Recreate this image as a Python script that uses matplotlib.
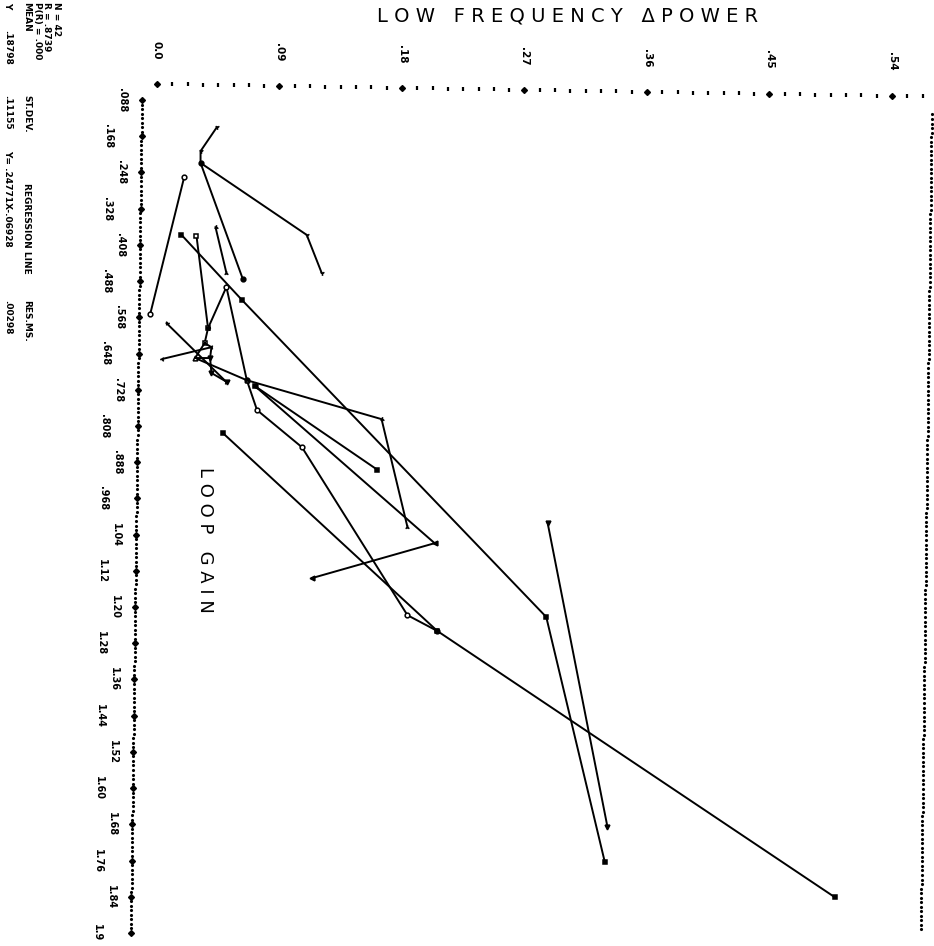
import numpy as np
import matplotlib
matplotlib.use('Agg')
import matplotlib.pyplot as plt

# low frequency delta power (horizontal) against loop gain (vertical, downwards)
# one trace per subject
pw_a = [0.044, 0.032, 0.032]
lg_a = [0.148, 0.201, 0.227]
pw_b = [0.032, 0.110, 0.121]
lg_b = [0.227, 0.386, 0.470]
pw_c = [0.032, 0.063]
lg_c = [0.227, 0.483]
pw_d = [0.020, -0.005]
lg_d = [0.258, 0.561]
pw_e = [0.018, 0.0625, 0.286, 0.329]
lg_e = [0.386, 0.530, 1.230, 1.771]
pw_f = [0.029, 0.0375, 0.035]
lg_f = [0.388, 0.592, 0.625]
pw_g = [0.043, 0.051]
lg_g = [0.369, 0.470]
pw_h = [0.051, 0.0375]
lg_h = [0.501, 0.592]
pw_i = [0.051, 0.066, 0.0735, 0.1065, 0.184, 0.206]
lg_i = [0.501, 0.707, 0.773, 0.855, 1.226, 1.261]
pw_j = [0.007, 0.051]
lg_j = [0.581, 0.711]
pw_k = [0.004, 0.040]
lg_k = [0.660, 0.634]
pw_l = [0.028, 0.066]
lg_l = [0.658, 0.707]
pw_m = [0.039, 0.040, 0.0514]
lg_m = [0.658, 0.691, 0.711]
pw_n = [0.066, 0.165, 0.184]
lg_n = [0.707, 0.793, 1.031]
pw_o = [0.072, 0.162]
lg_o = [0.720, 0.905]
pw_q = [0.072, 0.204, 0.114]
lg_q = [0.720, 1.067, 1.144]
pw_r = [0.0485, 0.206, 0.498]
lg_r = [0.824, 1.261, 1.849]
pw_s = [0.287, 0.331]
lg_s = [1.022, 1.694]
pw_t = [0.035, 0.040, 0.039, 0.028, 0.035]
lg_t = [0.625, 0.634, 0.658, 0.658, 0.625]

power_ticks = [0.0, 0.09, 0.18, 0.27, 0.36, 0.45, 0.54]
power_labels = ['0.0', '.09', '.18', '.27', '.36', '.45', '.54']
gain_labels = ['.088', '.168', '.248', '.328', '.408', '.488', '.568', '.648',
               '.728', '.808', '.888', '.968', '1.04', '1.12', '1.20', '1.28',
               '1.36', '1.44', '1.52', '1.60', '1.68', '1.76', '1.84', '1.9']
gain_ticks = [0.088 + 0.08 * k for k in range(len(gain_labels))]

stats_rows = [
    ('N = 42', 56, 2),
    ('R = .8739', 47, 2),
    ('P(R) = .000', 38, 2),
    ('MEAN', 27, 2), ('ST.DEV.', 27, 95), ('REGRESSION LINE', 27, 183), ('RES.MS.', 27, 300),
    ('Y', 8, 2), ('.18798', 8, 30), ('.11155', 8, 95), ('Y= .24771X-.06928', 8, 150), ('.00298', 8, 300),
]

# page geometry of the scan (pixels)
X0, XSCALE = 157.0, 1361.0
Y0, YSCALE = 100.0, 452.7
SKEW = 0.0133


def px_p(x):
    return (x - X0) / XSCALE


def px_v(y):
    return 0.088 + (y - Y0) / YSCALE


fig = plt.figure(figsize=(9.34, 9.46), dpi=100)
ax = fig.add_axes([0, 0, 1, 1])
ax.set_xlim(px_p(0), px_p(934))
ax.set_ylim(px_v(946), px_v(0))
ax.axis('off')

# top axis (power)
pp = np.arange(0, 0.5626, 0.01125)
yy = 84 + 0.016 * (pp * XSCALE)
ax.plot(pp, px_v(yy), ls='none', marker='|', ms=3.5, mew=1.6, color='k')
pm = np.array(power_ticks)
ax.plot(pm, px_v(84 + 0.016 * pm * XSCALE), ls='none', marker='D', ms=3, color='k')
for t, lab in zip(power_ticks, power_labels):
    ax.text(t, px_v(50 + 0.016 * t * XSCALE), lab, rotation=-90, ha='center', va='center',
            fontsize=7.5, fontweight='bold')

# left axis (loop gain)
vv = np.arange(0.088, 1.9285, 0.01)
ypx = Y0 + (vv - 0.088) * YSCALE
ax.plot(px_p(142 - SKEW * (ypx - 99)), vv, ls='none', marker='.', ms=2.5, color='k')
vm = np.array(gain_ticks)
ym = Y0 + (vm - 0.088) * YSCALE
ax.plot(px_p(142 - SKEW * (ym - 99)), vm, ls='none', marker='D', ms=3, color='k')
for k, (t, lab) in enumerate(zip(gain_ticks, gain_labels)):
    y = Y0 + (t - 0.088) * YSCALE
    x = (122 if k % 2 == 0 else 108) - SKEW * (y - 99)
    ax.text(px_p(x), t, lab, rotation=-90, ha='center', va='center', fontsize=7, fontweight='bold')

# right frame
vr = np.arange(0.12, 1.9285, 0.01)
yr = Y0 + (vr - 0.088) * YSCALE
ax.plot(px_p(932 - SKEW * (yr - 99)), vr, ls='none', marker='.', ms=2.5, color='k')

# traces
traces = [
    (pw_a, lg_a, '1', 'k'), (pw_b, lg_b, '1', 'k'), (pw_c, lg_c, 'o', 'k'), (pw_d, lg_d, 'o', 'w'),
    (pw_e, lg_e, 's', 'k'), (pw_f, lg_f, 's', 'w'), (pw_g, lg_g, '2', 'k'), (pw_h, lg_h, '*', 'k'),
    (pw_i, lg_i, 'o', 'w'), (pw_j, lg_j, '4', 'k'), (pw_k, lg_k, '3', 'k'), (pw_l, lg_l, '^', 'w'),
    (pw_m, lg_m, 'v', 'k'), (pw_n, lg_n, '2', 'k'), (pw_o, lg_o, 's', 'k'), (pw_q, lg_q, '<', 'k'),
    (pw_r, lg_r, 's', 'k'), (pw_s, lg_s, 'v', 'k'), (pw_t, lg_t, '', 'k'),
]
for pw, lg, mk, face in traces:
    ax.plot(pw, lg, color='k', lw=1.4, marker=mk if mk else None, ms=3.4, mew=1.1,
            mfc=face, mec='k')

# titles
ax.text(px_p(568), px_v(16), 'L O W   F R E Q U E N C Y   Δ P O W E R',
        ha='center', va='center', fontsize=14)
ax.text(px_p(205), px_v(540), 'L O O P   G A I N', rotation=-90,
        ha='center', va='center', fontsize=13)

for txt, x, y in stats_rows:
    ax.text(px_p(x), px_v(y), txt, rotation=-90, rotation_mode='anchor',
            ha='left', va='center', fontsize=6.5, fontweight='bold')

fig.savefig('out.png', dpi=100)
